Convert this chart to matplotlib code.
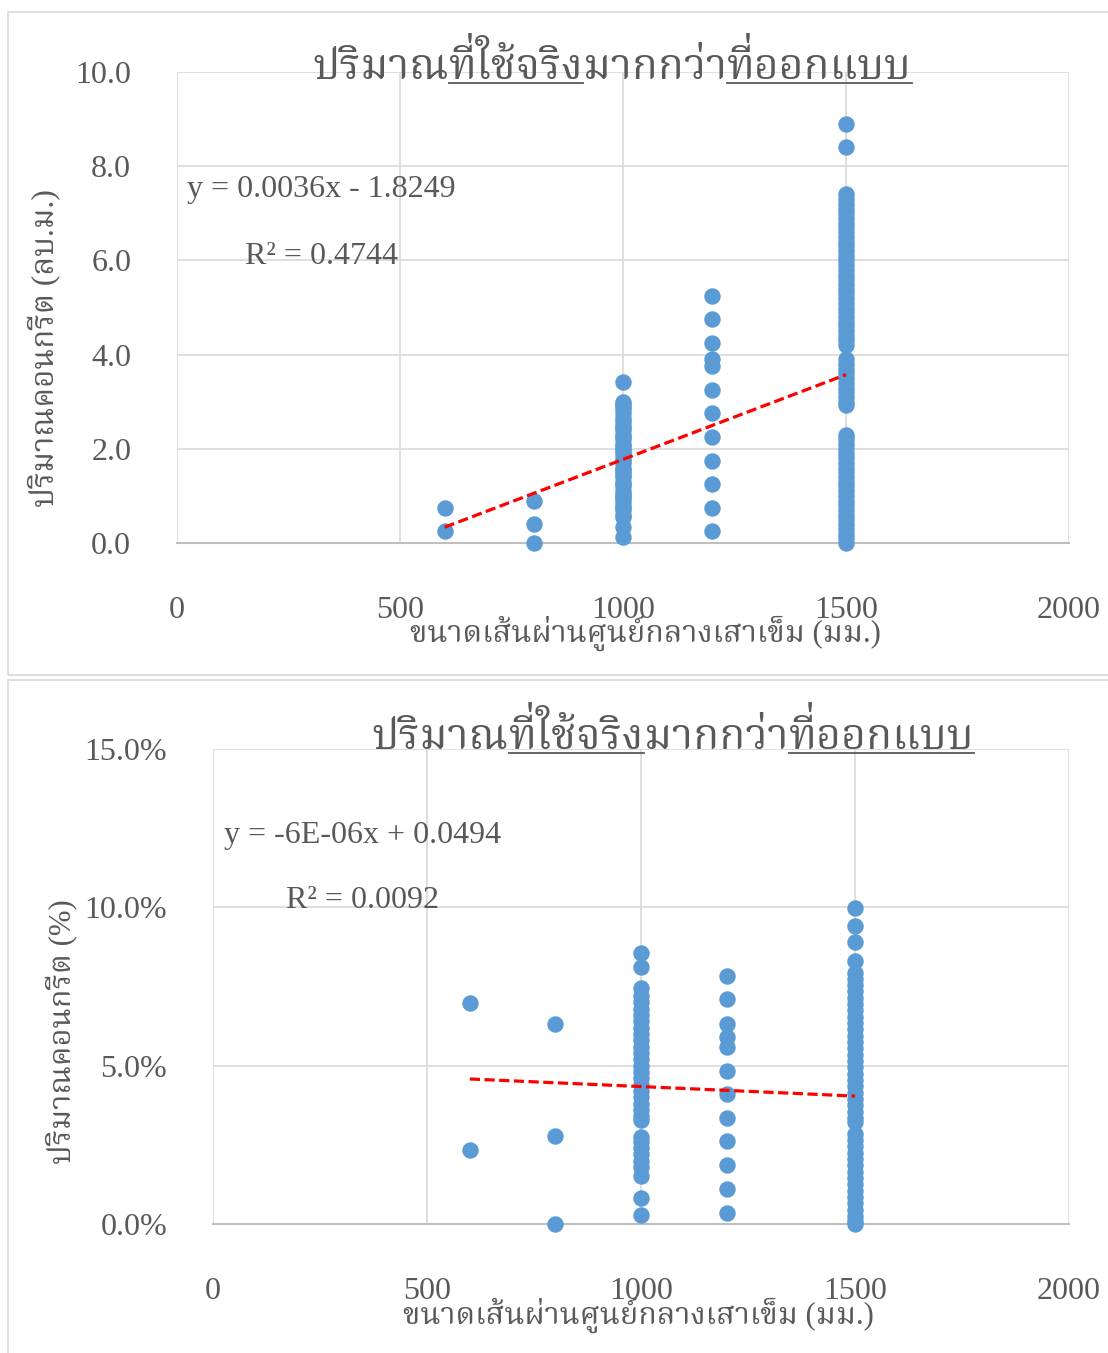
import matplotlib
matplotlib.use("Agg")
import matplotlib.pyplot as plt
from matplotlib import font_manager
from matplotlib.ft2font import FT2Font
from matplotlib.lines import Line2D
from matplotlib.patches import Rectangle
from matplotlib.transforms import Bbox
from matplotlib.ticker import FormatStrFormatter, PercentFormatter
import numpy as np

# ---- data ----
title_parts = ["ปริมาณ", "ที่ใช้จริง", "มากกว่า", "ที่ออกแบบ"]
title_underline = [False, True, False, True]
xlabel = "ขนาดเส้นผ่านศูนย์กลางเสาเข็ม (มม.)"
ylabel_top = "ปริมาณคอนกรีต (ลบ.ม.)"
ylabel_bot = "ปริมาณคอนกรีต (%)"
x_ticks = [0, 500, 1000, 1500, 2000]

# top chart: concrete volume (m3) per pile diameter
vol_600 = [0.75, 0.25]
vol_800 = [0.9, 0.4, 0.0]
vol_1000 = [3.42, 3.0, 2.95, 2.9, 2.85, 2.75, 2.65, 2.6, 2.5, 2.45, 2.4, 2.3, 2.25,
            2.2, 2.1, 2.05, 2.0, 1.95, 1.9, 1.8, 1.75, 1.7, 1.6, 1.55, 1.5, 1.45,
            1.4, 1.3, 1.25, 1.2, 1.1, 1.05, 1.0, 0.95, 0.9, 0.8, 0.75, 0.7, 0.6,
            0.55, 0.35, 0.12]
vol_1200 = [5.25, 4.75, 4.25, 3.9, 3.75, 3.25, 2.75, 2.25, 1.75, 1.25, 0.75, 0.25]
vol_1500 = [8.9, 8.4, 7.4, 7.3, 7.2, 7.1, 7.0, 6.9, 6.8, 6.7, 6.6, 6.5, 6.4, 6.3,
            6.2, 6.1, 6.0, 5.9, 5.8, 5.7, 5.6, 5.5, 5.4, 5.3, 5.2, 5.1, 5.0, 4.9,
            4.8, 4.7, 4.6, 4.5, 4.4, 4.3, 4.2, 3.9, 3.8, 3.7, 3.6, 3.5, 3.4, 3.3,
            3.2, 3.1, 3.0, 2.92, 2.3, 2.2, 2.1, 2.0, 1.9, 1.8, 1.7, 1.6, 1.5, 1.4,
            1.3, 1.2, 1.1, 1.0, 0.9, 0.8, 0.7, 0.6, 0.5, 0.4, 0.3, 0.2, 0.1, 0.0]
vol_fit = (0.0036, -1.8249)
vol_eq = "y = 0.0036x - 1.8249"
vol_r2 = "R² = 0.4744"

# bottom chart: concrete overrun (fraction)
pct_600 = [0.0697, 0.0233]
pct_800 = [0.0633, 0.0278, 0.0]
pct_1000 = [0.0856, 0.0811, 0.0746, 0.072, 0.07, 0.068, 0.066, 0.064, 0.062, 0.06,
            0.058, 0.056, 0.054, 0.052, 0.05, 0.048, 0.046, 0.044, 0.042, 0.04,
            0.038, 0.036, 0.034, 0.0327, 0.0275, 0.026, 0.024, 0.022, 0.02, 0.018,
            0.0151, 0.0083, 0.0028]
pct_1200 = [0.0783, 0.071, 0.0633, 0.0589, 0.0558, 0.0484, 0.0411, 0.0336, 0.0261,
            0.0186, 0.011, 0.0036]
pct_1500 = [0.0998, 0.094, 0.089, 0.083, 0.0793, 0.0775, 0.0755, 0.0735, 0.0715,
            0.0695, 0.0675, 0.0655, 0.0635, 0.0615, 0.0595, 0.0575, 0.0555, 0.0535,
            0.0515, 0.0495, 0.0475, 0.0455, 0.0435, 0.0415, 0.0395, 0.0375, 0.0355,
            0.0335, 0.0322, 0.0285, 0.0265, 0.0245, 0.0225, 0.0205, 0.0185, 0.0165,
            0.0145, 0.0125, 0.0105, 0.0085, 0.0065, 0.0045, 0.0025, 0.001, 0.0]
pct_fit = (-6e-06, 0.0494)
pct_eq = "y = -6E-06x + 0.0494"
pct_r2 = "R² = 0.0092"

diameters = [600, 800, 1000, 1200, 1500]
vol_groups = [vol_600, vol_800, vol_1000, vol_1200, vol_1500]
pct_groups = [pct_600, pct_800, pct_1000, pct_1200, pct_1500]


# ---- find a font that can draw Thai ----
def has_thai(path):
    try:
        return 0x0E1B in FT2Font(path).get_charmap()
    except Exception:
        return False


def thai_font():
    best, best_score = None, -1e9
    for f in font_manager.fontManager.ttflist:
        if not has_thai(f.fname):
            continue
        low = (f.name + " " + f.fname).lower()
        score = 0
        if "serif" in f.name.lower():
            score += 2
        if "thai" in low:
            score += 3
        if "condensed" in str(f.stretch).lower() or "condensed" in low:
            score += 4
        w = f.weight if isinstance(f.weight, int) else 400
        score -= abs(w - 400) / 100
        if f.style != "normal":
            score -= 10
        if score > best_score:
            best, best_score = f, score
    return best


TF = thai_font()
THAI = TF.name if TF is not None else "DejaVu Sans"
STRETCH = TF.stretch if TF is not None else "normal"
SERIF = "Liberation Serif"
MIX = [SERIF, THAI, "DejaVu Sans"]
GREY = "#595959"
BLUE = "#5B9BD5"

W, H = 1108, 1353
fig = plt.figure(figsize=(W / 100, H / 100), dpi=100)
fig.patch.set_facecolor("white")


def fx(px):
    return px / W


def fy(py):
    return 1 - py / H


# panel borders like the Excel chart areas
fig.add_artist(Rectangle((fx(8), fy(675)), fx(1130 - 8), fy(12) - fy(675),
                         transform=fig.transFigure, fill=False,
                         edgecolor="#D9D9D9", lw=1.2))
fig.add_artist(Rectangle((fx(8), fy(1380)), fx(1130 - 8), fy(680) - fy(1380),
                         transform=fig.transFigure, fill=False,
                         edgecolor="#D9D9D9", lw=1.2))

ax1 = fig.add_axes([fx(177), fy(543), fx(1069) - fx(177), fy(72) - fy(543)])
ax2 = fig.add_axes([fx(213), fy(1224), fx(1069) - fx(213), fy(749) - fy(1224)])


def style(ax, ylim, yticks, pad_x, pad_y):
    ax.set_xlim(0, 2000)
    ax.set_ylim(*ylim)
    ax.set_xticks(x_ticks)
    ax.set_yticks(yticks)
    ax.grid(True, color="#D9D9D9", lw=1.2)
    ax.set_axisbelow(True)
    for s in ["left", "right", "top"]:
        ax.spines[s].set_visible(False)
    ax.spines["bottom"].set_color("#BFBFBF")
    ax.spines["bottom"].set_linewidth(1.5)
    ax.tick_params(length=0, labelsize=23, labelcolor=GREY)
    ax.tick_params(axis="x", pad=pad_x)
    ax.tick_params(axis="y", pad=pad_y)
    for lab in ax.get_xticklabels() + ax.get_yticklabels():
        lab.set_family(SERIF)


def draw_points(ax, groups, fit):
    for d, vals in zip(diameters, groups):
        ax.scatter([d] * len(vals), vals, s=140, color=BLUE, lw=0,
                   zorder=3, clip_on=False)
    xs = np.array([min(diameters), max(diameters)])
    ax.plot(xs, fit[0] * xs + fit[1], color="#FF0000", lw=2.3,
            ls=(0, (3.2, 1.4)), zorder=4)


style(ax1, (0, 10), [0, 2, 4, 6, 8, 10], 38, 33)
ax1.yaxis.set_major_formatter(FormatStrFormatter("%.1f"))
draw_points(ax1, vol_groups, vol_fit)

style(ax2, (0, 0.15), [0, 0.05, 0.10, 0.15], 38, 33)
ax2.yaxis.set_major_formatter(PercentFormatter(xmax=1, decimals=1))
draw_points(ax2, pct_groups, pct_fit)

fig.canvas.draw()
r = fig.canvas.get_renderer()

SARA_II, MAI_EK = "\u0e35", "\u0e48"
STACK = SARA_II + MAI_EK


def tx(x, y, s, size, **kw):
    return fig.text(fx(x), fy(y), s, fontsize=size, family=MIX,
                    fontstretch=STRETCH, color=GREY, **kw)


def width(s, size):
    t = tx(0, 0, s, size)
    w = t.get_window_extent(r).width
    t.remove()
    return w


def fit_size(s, width_px, base=30):
    return base * width_px / width(s.replace(STACK, SARA_II), base)


def glyph_box(ch, size):
    path = font_manager.findfont(font_manager.FontProperties(family=THAI,
                                                             stretch=STRETCH))
    f = FT2Font(path)
    f.set_size(size, 100)
    return [v / 64 for v in f.load_char(ord(ch)).bbox]


def lift_tone(x, base_y, size, head):
    # matplotlib does not stack Thai marks, so the tone mark over the
    # upper vowel is drawn again higher up, clipped to show only the mark
    ii_top = glyph_box(SARA_II, size)[3]
    tone_bot = glyph_box(MAI_EK, size)[1]
    cons_top = glyph_box(head, size)[3]
    d = ii_top - tone_bot + 2
    if d <= 0:
        return
    t = tx(x, base_y - d, head + MAI_EK, size, ha="left", va="baseline")
    y0 = (H - base_y) + d + cons_top + 1.5
    t.set_clip_box(Bbox([[0, y0], [W, H + 200]]))


def title(cx, base_y, width_px):
    size = fit_size("".join(title_parts), width_px)
    plain = [p.replace(STACK, SARA_II) for p in title_parts]
    widths = [width(p, size) for p in plain]
    x = cx - sum(widths) / 2
    for p, q, u, w in zip(title_parts, plain, title_underline, widths):
        tx(x, base_y, q, size, ha="left", va="baseline")
        if p.startswith("ท" + STACK) and TF is not None:
            lift_tone(x, base_y, size, p[0])
        if u:
            fig.add_artist(Line2D([fx(x), fx(x + w)], [fy(base_y + 4)] * 2,
                                  transform=fig.transFigure, color=GREY, lw=1.3))
        x += w


title(612, 79, 600)
title(673, 749, 602)

# axis titles
tx(645, 643, xlabel, fit_size(xlabel, 472), ha="center", va="baseline")
tx(638, 1325, xlabel, fit_size(xlabel, 472), ha="center", va="baseline")
tx(45, 348, ylabel_top, fit_size(ylabel_top, 317), ha="center", va="center",
   rotation=90)
tx(62, 1032, ylabel_bot, fit_size(ylabel_bot, 265), ha="center", va="center",
   rotation=90)

# trendline equations
fig.text(fx(187), fy(190), vol_eq, fontsize=23, family=SERIF, color=GREY, va="center")
fig.text(fx(245), fy(256), vol_r2, fontsize=23, family=SERIF, color=GREY, va="center")
fig.text(fx(224), fy(835), pct_eq, fontsize=23, family=SERIF, color=GREY, va="center")
fig.text(fx(286), fy(900), pct_r2, fontsize=23, family=SERIF, color=GREY, va="center")

fig.savefig("out.png", dpi=100)
